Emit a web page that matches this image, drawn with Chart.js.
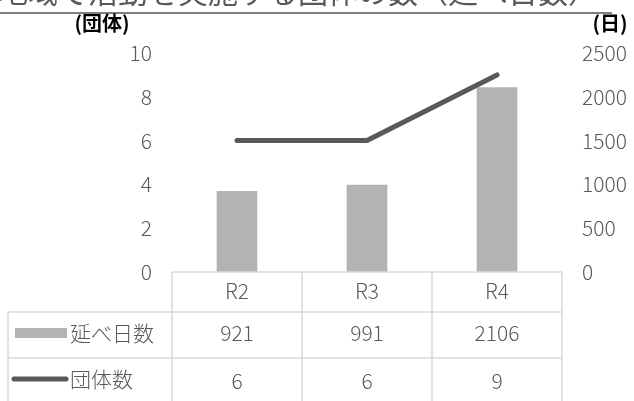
<!DOCTYPE html>
<html>
<head>
<meta charset="utf-8">
<script src="https://cdn.jsdelivr.net/npm/chart.js@4"></script>
<style>
  html, body { margin: 0; padding: 0; background: #fff; }
  #wrap { width: 634px; height: 401px; position: relative; overflow: hidden; }
</style>
</head>
<body>
<div id="wrap"><canvas id="chart" width="634" height="401"></canvas></div>
<script>
const categories = ['R2', 'R3', 'R4'];
const days = [921, 991, 2106];
const groups = [6, 6, 9];
const dayLabel = '延べ日数';
const groupLabel = '団体数';
const leftUnit = '(団体)';
const rightUnit = '(日)';
const titleText = '地域で活動を実施する団体の数（延べ日数）';

const FONT = '"Noto Sans CJK JP", "Noto Sans", sans-serif';
const TEXT = '#595959';
const GRID = '#d9d9d9';
const BAR = '#b3b3b3';
const LINE = '#595959';

const tablePlugin = {
    id: 'tablePlugin',
    afterDraw(chart) {
        const ctx = chart.ctx;
        const area = chart.chartArea;
        const x = chart.scales.x;
        const half = (x.getPixelForValue(1) - x.getPixelForValue(0)) / 2;
        const cols = [area.left];
        for (let i = 0; i < categories.length; i++) cols.push(x.getPixelForValue(i) + half);
        const rows = [area.bottom, area.bottom + 40, area.bottom + 86, area.bottom + 140];
        const leftEdge = 8;

        ctx.save();
        // title, cut off at the top of the picture
        ctx.fillStyle = TEXT;
        ctx.font = '30px ' + FONT;
        ctx.textAlign = 'left';
        ctx.textBaseline = 'alphabetic';
        ctx.fillText(titleText, -2, 3);
        ctx.strokeStyle = '#7f7f7f';
        ctx.lineWidth = 2;
        ctx.beginPath();
        ctx.moveTo(0, 13);
        ctx.lineTo(612, 13);
        ctx.stroke();

        // axis units
        ctx.fillStyle = '#000';
        ctx.font = 'bold 20px ' + FONT;
        ctx.textAlign = 'center';
        ctx.textBaseline = 'middle';
        ctx.fillText(leftUnit, 102, 23);
        ctx.fillText(rightUnit, 610, 23);

        // table grid
        ctx.strokeStyle = GRID;
        ctx.lineWidth = 1.5;
        ctx.beginPath();
        ctx.moveTo(area.left, rows[0]); ctx.lineTo(cols[cols.length - 1], rows[0]);
        for (let r = 1; r < rows.length; r++) {
            ctx.moveTo(leftEdge, rows[r]); ctx.lineTo(cols[cols.length - 1], rows[r]);
        }
        cols.forEach(c => { ctx.moveTo(c, rows[0]); ctx.lineTo(c, rows[rows.length - 1]); });
        ctx.moveTo(leftEdge, rows[1]); ctx.lineTo(leftEdge, rows[rows.length - 1]);
        ctx.stroke();

        // cell texts
        ctx.fillStyle = TEXT;
        ctx.font = '300 21px ' + FONT;
        ctx.textAlign = 'center';
        ctx.textBaseline = 'middle';
        categories.forEach((c, i) => {
            const cx = x.getPixelForValue(i);
            ctx.fillText(c, cx, (rows[0] + rows[1]) / 2 - 1);
            ctx.fillText(String(days[i]), cx, (rows[1] + rows[2]) / 2 - 2);
            ctx.fillText(String(groups[i]), cx, (rows[2] + rows[3]) / 2 - 4);
        });

        // legend keys
        const y1 = (rows[1] + rows[2]) / 2 - 2;
        const y2 = 379;
        ctx.fillStyle = BAR;
        ctx.fillRect(15, y1 - 5, 52, 10);
        ctx.strokeStyle = LINE;
        ctx.lineWidth = 5;
        ctx.lineCap = 'round';
        ctx.beginPath();
        ctx.moveTo(14, y2); ctx.lineTo(66, y2);
        ctx.stroke();
        ctx.fillStyle = TEXT;
        ctx.textAlign = 'left';
        ctx.fillText(dayLabel, 70, y1);
        ctx.fillText(groupLabel, 70, y2);
        ctx.restore();
    }
};

const data = {
    labels: categories,
    datasets: [
        {
            type: 'line',
            label: groupLabel,
            data: groups,
            yAxisID: 'y',
            borderColor: LINE,
            borderWidth: 5,
            borderCapStyle: 'round',
            borderJoinStyle: 'round',
            pointRadius: 0,
            tension: 0,
            order: 0
        },
        {
            type: 'bar',
            label: dayLabel,
            data: days,
            yAxisID: 'y1',
            backgroundColor: BAR,
            barThickness: 40,
            order: 1
        }
    ]
};

const config = {
    data: data,
    options: {
        responsive: false,
        animation: false,
        layout: {
            padding: { top: 53, bottom: 129, left: 0, right: 0 }
        },
        plugins: {
            legend: { display: false },
            tooltip: { enabled: false }
        },
        scales: {
            x: {
                display: false,
                offset: true
            },
            y: {
                position: 'left',
                min: 0,
                max: 10,
                ticks: {
                    stepSize: 2,
                    padding: 20,
                    color: TEXT,
                    font: { family: FONT, size: 21, weight: '300' },
                    callback: v => String(v)
                },
                grid: { display: false, drawTicks: false },
                border: { display: false },
                afterFit(scale) { scale.width = 172; }
            },
            y1: {
                position: 'right',
                min: 0,
                max: 2500,
                ticks: {
                    stepSize: 500,
                    padding: 20,
                    color: TEXT,
                    font: { family: FONT, size: 21, weight: '300' },
                    callback: v => String(v)
                },
                grid: { display: false, drawTicks: false },
                border: { display: false },
                afterFit(scale) { scale.width = 72; }
            }
        }
    },
    plugins: [tablePlugin]
};

new Chart(document.getElementById('chart'), config);
</script>
</body>
</html>
